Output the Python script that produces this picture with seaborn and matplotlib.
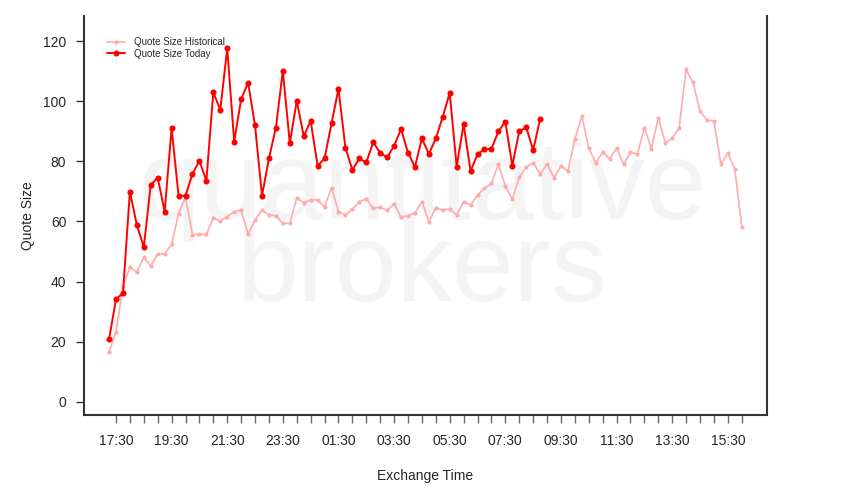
import matplotlib
matplotlib.use('Agg')

import matplotlib.pyplot as plt
import seaborn as sns
import pandas as pd

# quote sizes sampled every 15 minutes, starting 17:15
start_time = "2013-06-03 17:15"

historical = [16.4, 23.3, 38.1, 44.9, 43.1, 48.1, 45.2, 49.2, 49.2, 52.4,
              62.6, 68.1, 55.6, 55.7, 55.7, 61.3, 60.1, 61.6, 63.3, 63.8,
              55.7, 60.5, 63.8, 62.2, 61.9, 59.4, 59.4, 67.9, 66.3, 67.2,
              67.2, 64.9, 71.3, 63.3, 62.2, 64.0, 66.6, 67.5, 64.4, 64.7,
              63.8, 65.8, 61.5, 61.9, 62.9, 66.6, 59.9, 64.6, 63.8, 64.2,
              62.2, 66.6, 65.5, 68.8, 71.1, 72.7, 79.1, 71.9, 67.5, 74.7,
              78.1, 79.6, 75.8, 79.2, 74.6, 78.5, 76.8, 87.4, 95.2, 84.4,
              79.5, 83.1, 80.8, 84.4, 79.1, 83.1, 82.5, 91.3, 84.2, 94.6,
              86.3, 87.7, 91.3, 110.7, 106.4, 96.8, 93.8, 93.5, 79.1, 82.7,
              77.5, 58.3]

today = [20.7, 34.1, 36.1, 69.9, 58.8, 51.5, 72.2, 74.6, 63.3, 91.1,
         68.6, 68.6, 75.9, 80.2, 73.6, 103.1, 97.2, 117.7, 86.6, 100.7,
         106.3, 92.0, 68.6, 81.0, 91.3, 110.2, 86.1, 100.2, 88.5, 93.5,
         78.6, 81.0, 92.7, 104.2, 84.6, 77.2, 81.0, 79.7, 86.4, 82.9,
         81.4, 85.2, 90.8, 82.9, 78.2, 87.7, 82.5, 87.7, 94.9, 102.9,
         78.3, 92.4, 76.8, 82.4, 84.1, 84.2, 90.0, 93.3, 78.6, 90.0,
         91.4, 83.8, 94.1]

y_ticks = [0, 20, 40, 60, 80, 100, 120]

times = pd.date_range(start_time, periods=len(historical), freq="15min")
hist_df = pd.DataFrame({"time": times, "size": historical})
today_df = pd.DataFrame({"time": times[:len(today)], "size": today})

sns.set_style("white")
plt.rcParams['font.family'] = ['Liberation Sans', 'DejaVu Sans']

fig = plt.figure(figsize=(8.5, 5), dpi=100)
ax = fig.add_axes([0.0985, 0.17, 0.8039, 0.798])

# watermark
ax.text(0.497, 0.538, "quantitative\nbrokers", transform=fig.transFigure,
        ha="center", va="center", multialignment="center", linespacing=0.72,
        fontsize=80, color="#f4f4f4", zorder=0)

sns.lineplot(data=hist_df, x="time", y="size", color="#ffabab", marker="o",
             markersize=3, markeredgewidth=0, linewidth=1.2,
             label="Quote Size Historical", ax=ax, zorder=2)
sns.lineplot(data=today_df, x="time", y="size", color="#ff0000", marker="o",
             markersize=4.4, markeredgewidth=0, linewidth=1.4,
             label="Quote Size Today", ax=ax, zorder=3)

pad = (times[-1] - times[0]) * 0.04
ax.set_xlim(times[0] - pad, times[-1] + pad)
ax.set_ylim(-4.5, 128.5)

xt = pd.date_range(times[0] + pd.Timedelta("15min"), times[-1], freq="30min")
ax.set_xticks(xt)
ax.set_xticklabels([t.strftime("%H:%M") if i % 4 == 0 else "" for i, t in enumerate(xt)])
ax.set_yticks(y_ticks)
ax.set_yticklabels([str(v) for v in y_ticks])

ax.spines["top"].set_visible(False)
for s in ["left", "bottom", "right"]:
    ax.spines[s].set_color("#333333")
    ax.spines[s].set_linewidth(1.5)

ax.tick_params(axis="y", direction="out", length=6, width=1, color="#333333",
               labelsize=10, pad=6.5, left=True)
ax.tick_params(axis="x", direction="out", length=6, width=1, color="#666666",
               labelsize=10, pad=8, bottom=True)

ax.set_xlabel("Exchange Time", fontsize=10, labelpad=15)
ax.set_ylabel("Quote Size", fontsize=10, labelpad=5.5)

ax.legend(loc="upper left", bbox_to_anchor=(0.034, 0.947), frameon=False,
          fontsize=7, handlelength=1.9, handletextpad=0.9, labelspacing=0.15,
          borderpad=0, borderaxespad=0)

fig.savefig("out.png", dpi=100)
